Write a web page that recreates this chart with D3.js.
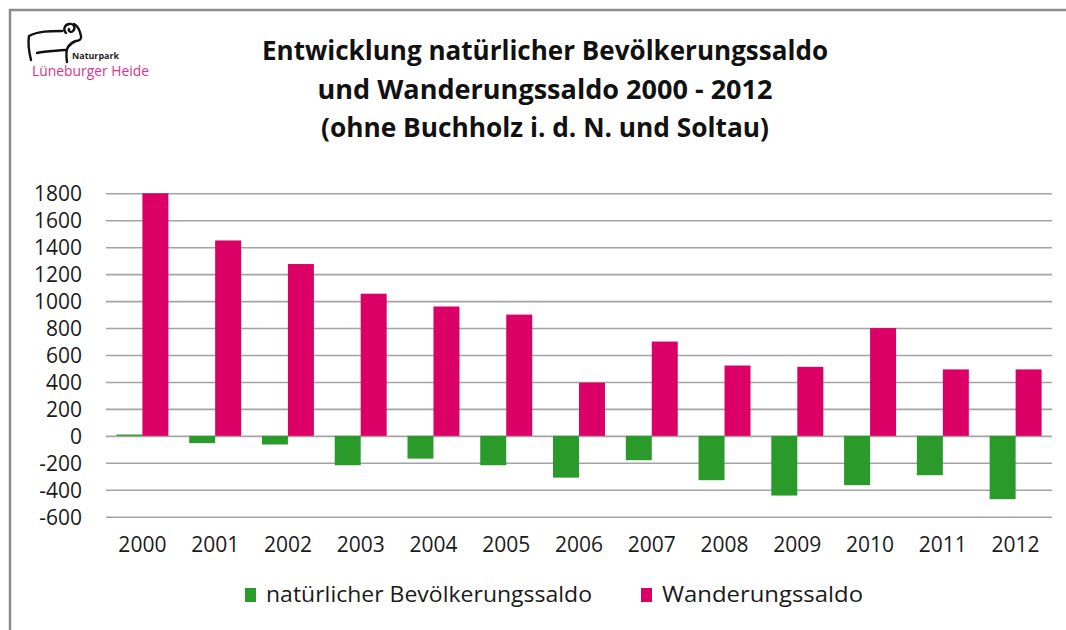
<!DOCTYPE html>
<html>
<head>
<meta charset="utf-8">
<script src="https://cdn.jsdelivr.net/npm/d3@7"></script>
<style>
  body { margin: 0; background: #fff; }
  text { font-family: "Open Sans", "Noto Sans", sans-serif; }
</style>
</head>
<body>
<div id="chart"></div>
<script>
// data
let years = ["2000", "2001", "2002", "2003", "2004", "2005", "2006", "2007", "2008", "2009", "2010", "2011", "2012"];
let natuerlich = [10, -54, -64, -218, -169, -218, -310, -181, -329, -443, -366, -292, -470];
let wanderung = [1800, 1450, 1275, 1055, 960, 900, 395, 700, 522, 512, 800, 493, 493];
let seriesNames = ["natürlicher Bevölkerungssaldo", "Wanderungssaldo"];
let yTicks = [-600, -400, -200, 0, 200, 400, 600, 800, 1000, 1200, 1400, 1600, 1800];
let titleLines = ["Entwicklung natürlicher Bevölkerungssaldo", "und Wanderungssaldo 2000 - 2012", "(ohne Buchholz i. d. N. und Soltau)"];

let colors = {"natürlicher Bevölkerungssaldo": "#2a9a2a", "Wanderungssaldo": "#dc0066"};

let dim = {
    'width': 1066,
    'height': 630
};

let plot = {left: 106, right: 1052, top: 193.3, bottom: 516.7};

let svg = d3.select('#chart').append('svg')
    .attr('width', dim.width)
    .attr('height', dim.height);

// outer frame (only top and left edge visible)
svg.append('rect')
    .attr('x', 10).attr('y', 10)
    .attr('width', 1200).attr('height', 800)
    .attr('fill', 'none')
    .attr('stroke', '#8c8c8c')
    .attr('stroke-width', 2.5);

// build rows
let rows = years.map((yr, i) => ({
    year: yr,
    values: [
        {series: seriesNames[0], value: natuerlich[i]},
        {series: seriesNames[1], value: wanderung[i]}
    ]
}));

let scaleX = d3.scaleBand()
    .domain(years)
    .range([plot.left, plot.right]);

let scaleSeries = d3.scaleBand()
    .domain(seriesNames)
    .range([0, scaleX.bandwidth()])
    .paddingOuter(0.4);

let scaleY = d3.scaleLinear()
    .domain([-600, 1800])
    .range([plot.bottom, plot.top]);

// y axis + gridlines (plain hyphen for negatives, like the original)
let axisY = svg.append('g')
    .attr('transform', `translate(${plot.left},0)`)
    .call(d3.axisLeft(scaleY)
        .tickValues(yTicks)
        .tickSize(-(plot.right - plot.left))
        .tickPadding(24)
        .tickFormat(d => String(d)));

axisY.select('.domain').remove();
axisY.selectAll('line')
    .attr('stroke', '#a3a3a3')
    .attr('stroke-width', 1.6);
axisY.selectAll('text')
    .attr('font-size', 21)
    .attr('fill', '#1a1a1a')
    .attr('dy', '0.36em');

// x axis labels
let axisX = svg.append('g')
    .attr('transform', `translate(0,${plot.bottom})`)
    .call(d3.axisBottom(scaleX).tickSize(0).tickPadding(20));

axisX.select('.domain').remove();
axisX.selectAll('text')
    .attr('font-size', 21)
    .attr('fill', '#1a1a1a');

// bars
let groups = svg.append('g').selectAll('g')
    .data(rows)
    .join('g')
    .attr('transform', d => `translate(${scaleX(d.year)},0)`);

groups.selectAll('rect')
    .data(d => d.values)
    .join('rect')
    .attr('x', d => scaleSeries(d.series))
    .attr('y', d => scaleY(Math.max(0, d.value)))
    .attr('width', scaleSeries.bandwidth())
    .attr('height', d => Math.abs(scaleY(d.value) - scaleY(0)))
    .attr('fill', d => colors[d.series]);

// title
svg.append('g').selectAll('text')
    .data(titleLines)
    .join('text')
    .attr('x', 545)
    .attr('y', (d, i) => 60 + i * 38.5)
    .attr('text-anchor', 'middle')
    .attr('font-size', 26)
    .attr('font-weight', 'bold')
    .attr('fill', '#111')
    .attr('textLength', (d, i) => [566, 455, 448][i])
    .attr('lengthAdjust', 'spacingAndGlyphs')
    .text(d => d);

// legend
let legendX = [245, 641];
let legendW = [326, 201];
let legend = svg.append('g').selectAll('g')
    .data(seriesNames)
    .join('g')
    .attr('transform', (d, i) => `translate(${legendX[i]},588)`);

legend.append('rect')
    .attr('width', 11)
    .attr('height', 14)
    .attr('fill', d => colors[d]);

legend.append('text')
    .attr('x', 21)
    .attr('y', 14)
    .attr('font-size', 21)
    .attr('fill', '#1a1a1a')
    .attr('textLength', (d, i) => legendW[i])
    .attr('lengthAdjust', 'spacingAndGlyphs')
    .text(d => d);

// logo: sheep line drawing
let logo = svg.append('g');

logo.append('path')
    .attr('d', 'M31,60 C29,52 28,42 29,36 C38,31 50,31 62,31 M66,33 C63,30 64,25 69,24 C74,23 76,28 73,31 C71,33 68,31 69,29 M74,24 C78,26 80,31 81,36 C82,39 79,41 76,41 C73,42 70,44 68,47 C66,50 66,55 67,62 M37,53 C46,51 56,51 65,50')
    .attr('fill', 'none')
    .attr('stroke', '#111')
    .attr('stroke-width', 2.4)
    .attr('stroke-linecap', 'round');

logo.append('text')
    .attr('x', 72).attr('y', 59)
    .attr('font-size', 9.5)
    .attr('font-weight', 'bold')
    .attr('fill', '#222')
    .attr('textLength', 47)
    .attr('lengthAdjust', 'spacingAndGlyphs')
    .text('Naturpark');

logo.append('text')
    .attr('x', 32).attr('y', 76)
    .attr('font-size', 14)
    .attr('fill', '#d9348c')
    .attr('textLength', 117)
    .attr('lengthAdjust', 'spacingAndGlyphs')
    .text('Lüneburger Heide');
</script>
</body>
</html>
